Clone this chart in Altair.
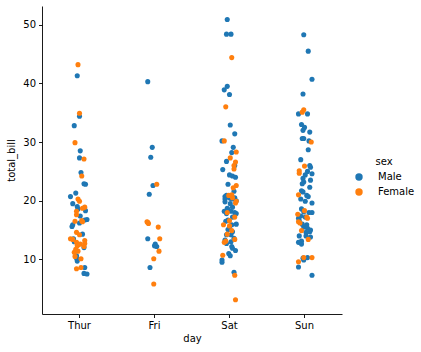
import altair as alt
import pandas as pd

days = ["Thur", "Fri", "Sat", "Sun"]
sexes = ["Male", "Female"]
colors = ["#1f77b4", "#ff7f0e"]

# total_bill values, with the horizontal jitter (fraction of a category)
thur_male = [41.3, 34.4, 32.8, 28.5, 27.3, 24.8, 22.9, 22.8, 21.3, 20.7, 19.5, 19.0, 18.6, 18.3, 17.4,
             16.8, 16.7, 16.2, 15.6, 15.9, 14.3, 13.5, 13.0, 12.0, 10.6, 10.2, 9.7, 8.6, 7.6, 7.5]
thur_male_jit = [-0.03, 0.00, -0.07, 0.01, 0.00, 0.02, 0.06, 0.08, -0.05, -0.12, -0.09, -0.03, -0.02, 0.08, 0.01,
                 0.10, 0.07, 0.00, -0.10, -0.09, 0.04, -0.08, -0.07, 0.06, -0.04, -0.04, -0.03, 0.07, 0.06, 0.10]
thur_female = [43.2, 34.9, 29.9, 27.1, 24.2, 20.3, 19.9, 18.9, 18.7, 18.2, 17.6, 16.6, 16.5, 14.6, 14.2, 13.5,
               13.2, 12.9, 12.7, 12.5, 12.2, 12.3, 11.4, 11.2, 10.5, 10.1, 8.6, 8.4, 13.4, 16.4, 11.7, 12.6]
thur_female_jit = [-0.02, 0.00, -0.06, 0.06, 0.03, -0.02, 0.00, 0.07, 0.04, -0.04, -0.04, 0.03, -0.06, -0.04, 0.00, -0.12,
                   0.07, -0.04, 0.07, -0.02, 0.06, -0.03, -0.02, -0.07, -0.06, 0.02, 0.02, -0.04, -0.09, 0.04, -0.05, 0.01]
fri_male = [40.3, 29.1, 27.4, 22.6, 21.1, 13.5, 12.6, 12.2, 8.6, 12.3]
fri_male_jit = [-0.09, -0.03, -0.05, -0.02, -0.07, -0.09, 0.01, 0.03, -0.06, 0.00]
fri_female = [22.8, 16.4, 16.1, 15.5, 13.5, 11.4, 10.1, 5.8, 16.3]
fri_female_jit = [0.03, -0.10, -0.08, 0.05, 0.07, 0.06, -0.01, -0.01, -0.09]
sat_male = [50.9, 48.4, 48.4, 39.5, 38.9, 38.1, 32.9, 31.4, 30.2, 29.1, 28.2, 26.7, 26.0, 25.3, 24.4, 24.2,
            24.0, 22.8, 21.6, 20.7, 20.3, 19.8, 20.6, 20.4, 20.3, 20.5, 20.0, 18.7, 18.2, 18.5, 18.2, 18.0,
            17.8, 16.5, 16.7, 16.0, 15.9, 15.5, 14.7, 14.2, 14.2, 12.7, 12.2, 11.9, 11.5, 11.0, 10.6, 9.9,
            9.5, 7.8, 20.9, 19.5, 17.8, 17.2, 15.1, 13.6, 13.3, 13.0, 18.9]
sat_male_jit = [-0.03, -0.04, 0.02, -0.03, -0.07, 0.00, 0.01, 0.07, -0.10, 0.05, 0.03, -0.04, 0.07, -0.09, 0.00, 0.04,
                0.08, -0.02, 0.06, -0.06, -0.06, -0.06, -0.01, 0.01, 0.04, 0.07, 0.09, -0.03, -0.07, -0.02, 0.02, 0.07,
                0.09, -0.05, -0.02, 0.09, 0.03, 0.00, 0.04, 0.02, -0.04, -0.04, 0.03, 0.04, 0.08, -0.01, 0.01, -0.10,
                -0.10, 0.06, -0.04, 0.01, -0.04, 0.04, -0.02, 0.06, -0.06, 0.02, 0.04]
sat_female = [44.4, 36.0, 30.2, 28.3, 27.3, 26.6, 26.0, 25.4, 22.6, 22.2, 21.0, 19.9, 19.6, 17.2, 16.6, 15.9,
              14.9, 14.3, 13.1, 10.7, 7.3, 3.1, 20.5, 18.0, 15.7, 13.4, 20.9, 12.9]
sat_female_jit = [0.03, -0.05, -0.07, 0.09, 0.01, 0.08, 0.06, 0.06, 0.09, 0.05, 0.03, 0.09, 0.08, 0.07, 0.00, -0.08,
                  0.03, -0.03, -0.05, -0.09, 0.07, 0.08, 0.04, -0.03, 0.00, 0.07, -0.01, -0.07]
sun_male = [48.3, 45.5, 40.7, 38.2, 34.8, 34.8, 33.0, 32.5, 32.0, 31.7, 30.6, 30.6, 30.2, 28.7, 27.0, 25.7,
            25.0, 24.6, 24.4, 23.8, 23.5, 23.2, 22.3, 21.7, 21.5, 20.9, 20.7, 19.9, 19.6, 18.6, 18.0, 18.0,
            17.4, 17.0, 16.6, 15.5, 15.3, 15.0, 14.6, 14.7, 14.0, 14.0, 13.8, 13.1, 12.6, 10.3, 10.2, 9.9,
            8.7, 7.3, 17.2, 18.1, 16.0, 20.3, 15.9, 26.0, 12.9, 22.9]
sun_male_jit = [-0.01, 0.05, 0.10, -0.02, -0.08, 0.04, -0.04, 0.00, -0.02, 0.07, -0.03, -0.01, 0.06, 0.05, -0.05, 0.08,
                0.04, 0.10, 0.01, -0.02, 0.08, -0.01, 0.07, -0.04, -0.02, 0.03, 0.05, 0.01, 0.10, -0.04, 0.06, 0.10,
                -0.05, -0.08, -0.07, -0.01, 0.04, 0.08, 0.02, 0.07, -0.07, 0.02, 0.08, -0.04, -0.04, 0.04, -0.02, -0.01,
                -0.08, 0.10, 0.01, -0.01, -0.03, -0.05, 0.03, 0.07, -0.08, -0.03]
sun_female = [35.5, 35.1, 30.0, 25.9, 25.1, 24.7, 21.0, 18.3, 17.7, 17.2, 16.4, 14.9, 13.4, 10.3, 10.3, 9.6, 17.0, 16.2]
sun_female_jit = [-0.01, -0.03, 0.09, 0.00, -0.07, -0.07, -0.08, 0.00, -0.09, 0.03, -0.08, -0.04, 0.05, -0.01, 0.10, -0.08, 0.04, -0.06]

groups = [
    ("Thur", "Male", thur_male, thur_male_jit), ("Thur", "Female", thur_female, thur_female_jit),
    ("Fri", "Male", fri_male, fri_male_jit), ("Fri", "Female", fri_female, fri_female_jit),
    ("Sat", "Male", sat_male, sat_male_jit), ("Sat", "Female", sat_female, sat_female_jit),
    ("Sun", "Male", sun_male, sun_male_jit), ("Sun", "Female", sun_female, sun_female_jit),
]
rows = []
for d, s, vals, jits in groups:
    for v, j in zip(vals, jits):
        rows.append({"day": d, "sex": s, "total_bill": v, "jitter": j})
df = pd.DataFrame(rows)

font = "DejaVu Sans"

chart = alt.Chart(df).mark_circle(size=26, opacity=1, strokeWidth=0).encode(
    x=alt.X("day:N", sort=days,
            scale=alt.Scale(domain=days, paddingInner=0, paddingOuter=0),
            axis=alt.Axis(title="day", labelAngle=0, labelPadding=3, titlePadding=3)),
    xOffset=alt.XOffset("jitter:Q", scale=alt.Scale(domain=[-0.5, 0.5])),
    y=alt.Y("total_bill:Q",
            scale=alt.Scale(domain=[0.68, 53.2], nice=False, zero=False),
            axis=alt.Axis(title="total_bill", values=[10, 20, 30, 40, 50], labelPadding=3, titlePadding=6)),
    color=alt.Color("sex:N", scale=alt.Scale(domain=sexes, range=colors),
                    legend=alt.Legend(title="sex", orient="none", legendX=312, legendY=151,
                                      symbolType="circle", symbolSize=55, symbolStrokeWidth=0,
                                      symbolOpacity=1, labelOffset=14, rowPadding=5,
                                      titleAnchor="middle", titlePadding=5,
                                      titleFontSize=10, titleFontWeight="normal", labelFontSize=10,
                                      titleFont=font, labelFont=font,
                                      titleColor="black", labelColor="black")),
).properties(
    width=300, height=308,
    padding={"left": 42, "top": 6, "right": 79, "bottom": 38},
    autosize=alt.AutoSizeParams(type="none"),
).configure_view(stroke=None).configure_axis(
    grid=False, domainColor="black", domainWidth=0.9, tickColor="black", tickWidth=0.9, tickSize=3.5,
    labelColor="black", titleColor="black", labelFont=font, titleFont=font,
    labelFontSize=10, titleFontSize=10, titleFontWeight="normal",
)

chart.save("out.html", embed_options={"renderer": "svg", "actions": False})
